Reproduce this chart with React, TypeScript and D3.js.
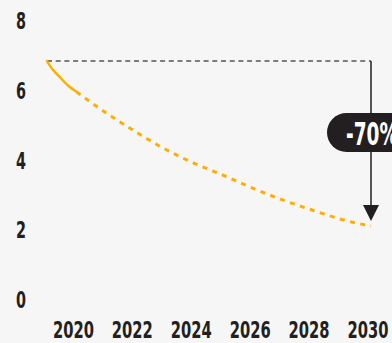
import React from "react";
import * as d3 from "d3";

const W = 392;
const H = 343;

const yTicks = [0, 2, 4, 6, 8];
const xTicks = [2020, 2022, 2024, 2026, 2028, 2030];

// actual emissions (solid)
const actualYears = [2019, 2019.2, 2019.45, 2019.75, 2020];
const actualValues = [6.85, 6.6, 6.38, 6.12, 5.97];

// projected pathway (dotted)
const projYears = [2020, 2021, 2022, 2023, 2024, 2025, 2026, 2027, 2028, 2029, 2030];
const projValues = [5.97, 5.37, 4.83, 4.33, 3.92, 3.57, 3.2, 2.87, 2.58, 2.31, 2.12];

const changeLabel = "-70%";

const FONT = "'DejaVu Sans Condensed', 'DejaVu Sans', sans-serif";

export default function App() {
  const x = d3.scaleLinear().domain([2019, 2030]).range([47, 371]);
  const y = d3.scaleLinear().domain([0, 8]).range([300, 21]);

  const line = d3
    .line<[number, number]>()
    .x((d) => x(d[0]))
    .y((d) => y(d[1]))
    .curve(d3.curveMonotoneX);

  const actual = actualYears.map((yr, i) => [yr, actualValues[i]] as [number, number]);
  const proj = projYears.map((yr, i) => [yr, projValues[i]] as [number, number]);

  const startV = actualValues[0];
  const endV = projValues[projValues.length - 1];
  const x0 = x(actualYears[0]);
  const x1 = x(projYears[projYears.length - 1]);
  const yStart = y(startV);
  const yEnd = y(endV);
  const tipY = yEnd - 5;
  const headH = 16;
  const headW = 16;
  const pillCy = 132.5;
  const pillH = 39;
  const pillW = 88;

  return (
    <svg
      width={W}
      height={H}
      style={{ position: "absolute", left: 0, top: 0, background: "#f6f6f6" }}
    >
      <rect x={0} y={0} width={W} height={H} fill="#f6f6f6" />
      {/* y labels */}
      {yTicks.map((t) => (
        <text
          key={t}
          x={16}
          y={y(t)}
          textLength={10}
          lengthAdjust="spacingAndGlyphs"
          dominantBaseline="central"
          fontFamily={FONT}
          fontWeight="bold"
          fontSize={23}
          fill="#231f20"
        >
          {t}
        </text>
      ))}
      {/* x labels */}
      {xTicks.map((t) => (
        <text
          key={t}
          x={x(t) - 3 - 20.5}
          y={330}
          textLength={41}
          lengthAdjust="spacingAndGlyphs"
          dominantBaseline="central"
          fontFamily={FONT}
          fontWeight="bold"
          fontSize={23}
          fill="#231f20"
        >
          {t}
        </text>
      ))}
      {/* reference dashed line */}
      <line
        x1={x0}
        x2={x1}
        y1={yStart}
        y2={yStart}
        stroke="#555"
        strokeWidth={1.5}
        strokeDasharray="5 3.7"
      />
      {/* arrow */}
      <line x1={x1} x2={x1} y1={yStart} y2={tipY - headH + 1} stroke="#231f20" strokeWidth={1.5} />
      <path
        d={`M${x1 - headW / 2},${tipY - headH} L${x1 + headW / 2},${tipY - headH} L${x1},${tipY} Z`}
        fill="#231f20"
      />
      {/* pill */}
      <rect
        x={x1 - pillW / 2}
        y={pillCy - pillH / 2}
        width={pillW}
        height={pillH}
        rx={pillH / 2}
        fill="#231f20"
      />
      <text
        x={x1 - 25}
        y={pillCy + 1}
        textLength={52}
        lengthAdjust="spacingAndGlyphs"
        dominantBaseline="central"
        fontFamily={FONT}
        fontWeight="bold"
        fontSize={32}
        fill="#ffffff"
      >
        {changeLabel}
      </text>
      {/* projected line */}
      <path
        d={line(proj) || ""}
        fill="none"
        stroke="#ffad00"
        strokeWidth={3}
        strokeDasharray="5 5.5"
      />
      {/* actual line */}
      <path
        d={line(actual) || ""}
        fill="none"
        stroke="#ffad00"
        strokeWidth={2.5}
        strokeLinecap="round"
      />
    </svg>
  );
}
